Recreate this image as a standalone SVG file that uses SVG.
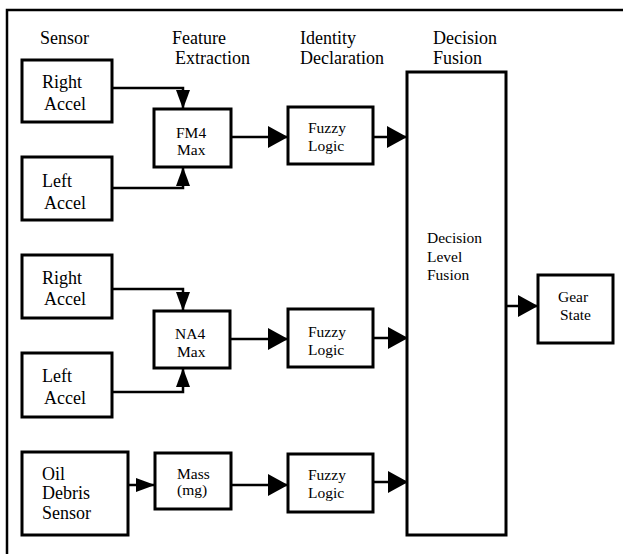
<svg xmlns="http://www.w3.org/2000/svg" width="623" height="554" viewBox="0 0 623 554" font-family="Liberation Serif, serif">
<style>
.frame{fill:none;stroke:#000;stroke-width:2.5}
.box{fill:#fff;stroke:#000;stroke-width:3}
.conn{fill:none;stroke:#000;stroke-width:2.5}
.hdr{font-size:18px;fill:#000}
.big{font-size:18px;fill:#000}
.sm{font-size:15.5px;fill:#000}
</style>
<defs>
<marker id="ah" markerUnits="userSpaceOnUse" markerWidth="21" markerHeight="22" refX="20" refY="11" orient="auto"><path d="M0,0 L20,11 L0,22 z" fill="#000"/></marker>
<marker id="as" markerUnits="userSpaceOnUse" markerWidth="20" markerHeight="15" refX="19" refY="7" orient="auto"><path d="M0,0 L19,7 L0,14 z" fill="#000"/></marker>
</defs>
<rect width="623" height="554" fill="#fff"/>
<path class="frame" d="M7,554 V10 H623"/>
<g id="headers">
<text class="hdr" x="40" y="44">Sensor</text>
<text class="hdr" x="172" y="44">Feature</text>
<text class="hdr" x="175" y="64">Extraction</text>
<text class="hdr" x="300" y="44">Identity</text>
<text class="hdr" x="300" y="64">Declaration</text>
<text class="hdr" x="433" y="44">Decision</text>
<text class="hdr" x="433" y="64">Fusion</text>
</g>
<g id="connectors">
<path class="conn" d="M112,88 H183 V109" marker-end="url(#as)"/>
<path class="conn" d="M112,188 H183 V167" marker-end="url(#as)"/>
<path class="conn" d="M231,137 H288" marker-end="url(#ah)"/>
<path class="conn" d="M373,137 H407" marker-end="url(#ah)"/>
<path class="conn" d="M112,289 H183 V311" marker-end="url(#as)"/>
<path class="conn" d="M112,392 H183 V368" marker-end="url(#as)"/>
<path class="conn" d="M230,339 H288" marker-end="url(#ah)"/>
<path class="conn" d="M373,338 H408" marker-end="url(#ah)"/>
<path class="conn" d="M128,485 H155" marker-end="url(#as)"/>
<path class="conn" d="M231,485 H288" marker-end="url(#ah)"/>
<path class="conn" d="M373,482 H408" marker-end="url(#ah)"/>
<path class="conn" d="M506,306 H538" marker-end="url(#ah)"/>
</g>
<g id="right-accel-1"><rect class="box" x="22" y="60" width="90" height="62"/><text class="big" x="42" y="88">Right</text><text class="big" x="44" y="110">Accel</text></g>
<g id="left-accel-1"><rect class="box" x="22" y="157" width="90" height="63"/><text class="big" x="42" y="187">Left</text><text class="big" x="44" y="209">Accel</text></g>
<g id="fm4-max"><rect class="box" x="154" y="109" width="77" height="58"/><text class="sm" x="176" y="138">FM4</text><text class="sm" x="177" y="155">Max</text></g>
<g id="fuzzy-1"><rect class="box" x="288" y="107" width="85" height="57"/><text class="sm" x="308" y="133">Fuzzy</text><text class="sm" x="308" y="151">Logic</text></g>
<g id="right-accel-2"><rect class="box" x="22" y="255" width="90" height="63"/><text class="big" x="42" y="284">Right</text><text class="big" x="44" y="305">Accel</text></g>
<g id="left-accel-2"><rect class="box" x="22" y="353" width="90" height="64"/><text class="big" x="42" y="382">Left</text><text class="big" x="44" y="404">Accel</text></g>
<g id="na4-max"><rect class="box" x="154" y="311" width="76" height="57"/><text class="sm" x="175" y="339">NA4</text><text class="sm" x="177" y="357">Max</text></g>
<g id="fuzzy-2"><rect class="box" x="288" y="309" width="85" height="58"/><text class="sm" x="308" y="337">Fuzzy</text><text class="sm" x="308" y="355">Logic</text></g>
<g id="oil-debris-sensor"><rect class="box" x="22" y="452" width="106" height="83"/><text class="big" x="42" y="480">Oil</text><text class="big" x="42" y="499">Debris</text><text class="big" x="42" y="519">Sensor</text></g>
<g id="mass"><rect class="box" x="155" y="453" width="76" height="56"/><text class="sm" x="177" y="479">Mass</text><text class="sm" x="177" y="495">(mg)</text></g>
<g id="fuzzy-3"><rect class="box" x="288" y="454" width="85" height="58"/><text class="sm" x="308" y="480">Fuzzy</text><text class="sm" x="308" y="498">Logic</text></g>
<g id="decision-level-fusion"><rect class="box" x="407" y="72" width="99" height="463"/><text class="sm" x="427" y="243">Decision</text><text class="sm" x="427" y="262">Level</text><text class="sm" x="427" y="280">Fusion</text></g>
<g id="gear-state"><rect class="box" x="538" y="275" width="75" height="68"/><text class="sm" x="558" y="302">Gear</text><text class="sm" x="560" y="320">State</text></g>
</svg>
